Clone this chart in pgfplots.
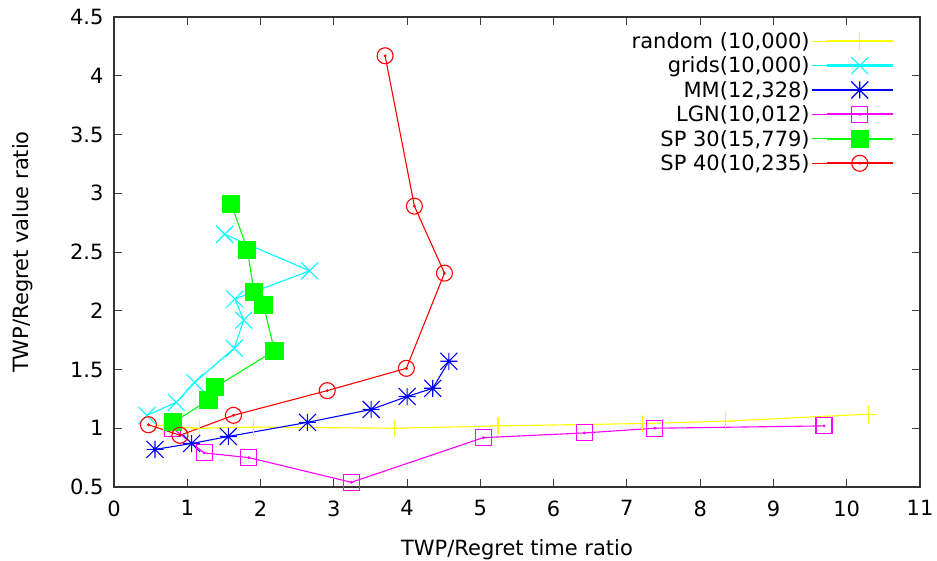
\documentclass[border=0pt]{standalone}
\usepackage{fontspec}
\setmainfont{DejaVu Sans}
\usepackage{pgfplots}
\pgfplotsset{compat=1.18}
\pgfdeclareplotmark{gpplus}{%
  \pgfpathmoveto{\pgfqpoint{-\pgfplotmarksize}{0pt}}\pgfpathlineto{\pgfqpoint{\pgfplotmarksize}{0pt}}%
  \pgfpathmoveto{\pgfqpoint{0pt}{-\pgfplotmarksize}}\pgfpathlineto{\pgfqpoint{0pt}{\pgfplotmarksize}}%
  \pgfusepathqstroke}
\pgfdeclareplotmark{gpx}{%
  \pgfpathmoveto{\pgfqpoint{-\pgfplotmarksize}{-\pgfplotmarksize}}\pgfpathlineto{\pgfqpoint{\pgfplotmarksize}{\pgfplotmarksize}}%
  \pgfpathmoveto{\pgfqpoint{-\pgfplotmarksize}{\pgfplotmarksize}}\pgfpathlineto{\pgfqpoint{\pgfplotmarksize}{-\pgfplotmarksize}}%
  \pgfusepathqstroke}
\pgfdeclareplotmark{gpstar}{%
  \pgfpathmoveto{\pgfqpoint{-\pgfplotmarksize}{-\pgfplotmarksize}}\pgfpathlineto{\pgfqpoint{\pgfplotmarksize}{\pgfplotmarksize}}%
  \pgfpathmoveto{\pgfqpoint{-\pgfplotmarksize}{\pgfplotmarksize}}\pgfpathlineto{\pgfqpoint{\pgfplotmarksize}{-\pgfplotmarksize}}%
  \pgfpathmoveto{\pgfqpoint{-\pgfplotmarksize}{0pt}}\pgfpathlineto{\pgfqpoint{\pgfplotmarksize}{0pt}}%
  \pgfpathmoveto{\pgfqpoint{0pt}{-\pgfplotmarksize}}\pgfpathlineto{\pgfqpoint{0pt}{\pgfplotmarksize}}%
  \pgfusepathqstroke}
\pgfdeclareplotmark{gpsquare}{%
  \pgfpathrectangle{\pgfqpoint{-\pgfplotmarksize}{-\pgfplotmarksize}}{\pgfqpoint{2\pgfplotmarksize}{2\pgfplotmarksize}}%
  \pgfusepathqstroke
  \pgfpathcircle{\pgfpointorigin}{0.8pt}\pgfusepathqfillstroke}
\pgfdeclareplotmark{gpfsquare}{%
  \pgfpathrectangle{\pgfqpoint{-\pgfplotmarksize}{-\pgfplotmarksize}}{\pgfqpoint{2\pgfplotmarksize}{2\pgfplotmarksize}}%
  \pgfusepathqfillstroke}
\pgfdeclareplotmark{gpcircle}{%
  \pgfpathcircle{\pgfpointorigin}{\pgfplotmarksize}%
  \pgfusepathqstroke
  \pgfpathcircle{\pgfpointorigin}{0.8pt}\pgfusepathqfillstroke}
\definecolor{gpyellow}{RGB}{255,255,0}
\definecolor{gpcyan}{RGB}{0,255,255}
\definecolor{gpblue}{RGB}{0,0,255}
\definecolor{gpmag}{RGB}{255,0,255}
\definecolor{gpgreen}{RGB}{0,255,0}
\definecolor{gpred}{RGB}{255,0,0}
\pgfplotsset{
  gpleg/.style={legend image code/.code={%
    \path (0pt,0pt) -- (15pt,0pt);
    \fill[fill=#1] (15pt,-0.5pt) rectangle (80pt,0.5pt);
    \path plot coordinates {(47.5pt,0pt)};}},
  gpplot/.style={draw=#1, gpleg=#1, mark options={draw=#1, fill=#1}},
}
\begin{document}
\begin{tikzpicture}
\begin{axis}[
  name=ax,
  scale only axis,
  width=806pt, height=470pt,
  xmin=0, xmax=11, ymin=0.5, ymax=4.5,
  xtick={0,1,...,11},
  ytick={0.5,1,1.5,2,2.5,3,3.5,4,4.5},
  yticklabels={0.5,1,1.5,2,2.5,3,3.5,4,4.5},
  xticklabels={0,1,2,3,4,5,6,7,8,9,10,11},
  tick align=inside,
  major tick length=8pt,
  axis line style={line width=1.1pt, black!80},
  every tick/.style={line width=0.9pt, black!75},
  /pgf/number format/assume math mode=true,
  tick label style={font=\fontsize{21}{25}\selectfont},
  label style={font=\fontsize{21}{25}\selectfont},
  xlabel={TWP/Regret time ratio},
  ylabel={TWP/Regret value ratio},
  xlabel style={at={(axis description cs:0.5,0)}, anchor=base, yshift=-69pt},
  ylabel style={at={(axis description cs:-0.1061,0.5)}, anchor=base, rotate=0},
  xticklabel style={yshift=-10pt},
  yticklabel style={xshift=-7pt},
  legend plot pos=right,
  legend cell align=right,
  legend style={draw=none, fill=none, at={(0.9665,0.972)}, anchor=north east,
    inner sep=0pt, row sep=3pt,
    font=\fontsize{21}{25}\selectfont},
  every axis plot/.append style={line width=1.1pt},
]
\addplot[gpplot=gpyellow, mark=gpplus, mark size=8.5pt] coordinates {
 (0.68,1.02) (1.17,1.00) (1.90,1.01) (3.83,1.00) (5.24,1.02) (7.21,1.04) (8.34,1.06) (10.30,1.12)};
\addlegendentry{random (10,000)}
\addplot[gpplot=gpcyan, mark=gpx, mark size=8.5pt] coordinates {
 (0.45,1.11) (0.85,1.22) (1.10,1.39) (1.64,1.68) (1.77,1.92) (1.65,2.10) (2.67,2.34) (1.51,2.65)};
\addlegendentry{grids(10,000)}
\addplot[gpplot=gpblue, mark=gpstar, mark size=8.5pt] coordinates {
 (0.56,0.82) (1.06,0.87) (1.56,0.93) (2.64,1.05) (3.51,1.16) (4.00,1.27) (4.35,1.34) (4.57,1.57)};
\addlegendentry{MM(12,328)}
\addplot[gpplot=gpmag, mark=gpsquare, mark size=8pt] coordinates {
 (0.80,1.00) (1.23,0.79) (1.84,0.75) (3.24,0.54) (5.04,0.92) (6.42,0.96) (7.38,1.00) (9.69,1.02)};
\addlegendentry{LGN(10,012)}
\addplot[gpplot=gpgreen, mark=gpfsquare, mark size=8.5pt] coordinates {
 (0.81,1.05) (1.29,1.24) (1.38,1.35) (2.19,1.66) (2.04,2.05) (1.91,2.16) (1.82,2.52) (1.60,2.91)};
\addlegendentry{SP 30(15,779)}
\addplot[gpplot=gpred, mark=gpcircle, mark size=8pt] coordinates {
 (0.47,1.03) (0.90,0.94) (1.63,1.11) (2.91,1.32) (3.99,1.51) (4.51,2.32) (4.10,2.89) (3.70,4.17)};
\addlegendentry{SP 40(10,235)}
\end{axis}
\pgfresetboundingbox
\path ([xshift=-114pt,yshift=-74pt]ax.south west) rectangle ([xshift=17pt,yshift=17pt]ax.north east);
\end{tikzpicture}
\end{document}
